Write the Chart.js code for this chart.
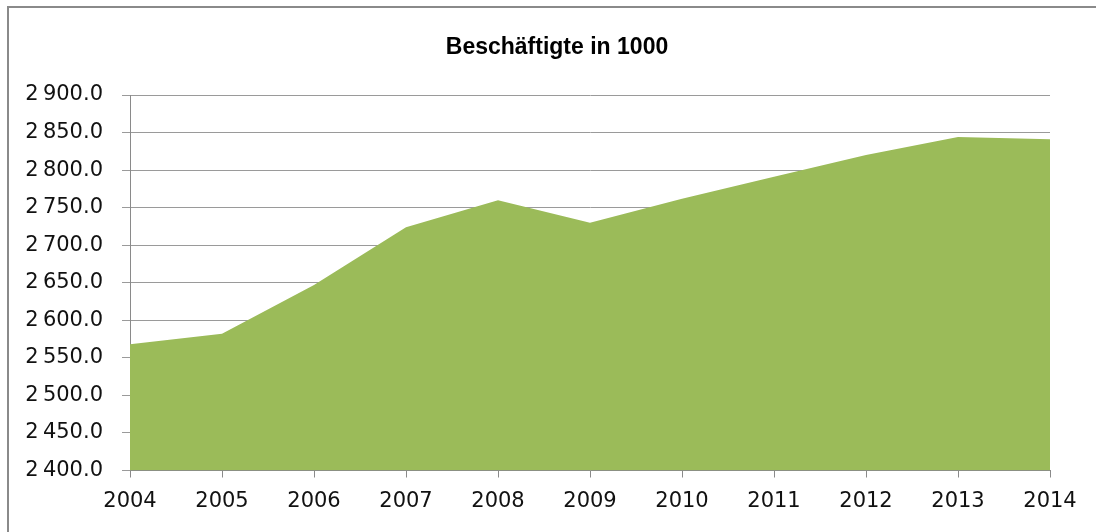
<!DOCTYPE html>
<html lang="de">
<head>
    <meta charset="UTF-8">
    <title>Beschäftigte in 1000</title>
    <script src="https://cdn.jsdelivr.net/npm/chart.js"></script>
    <style>
        html, body {
            margin: 0;
            padding: 0;
            background: #ffffff;
            overflow: hidden;
            width: 1096px;
            height: 532px;
        }
        .frame-top {
            position: absolute;
            left: 7px;
            top: 6px;
            width: 1200px;
            height: 2px;
            background: #8a8a8a;
        }
        .frame-left {
            position: absolute;
            left: 7px;
            top: 6px;
            width: 2px;
            height: 600px;
            background: #8a8a8a;
        }
        .chart-container {
            position: absolute;
            left: 0;
            top: 0;
            width: 1096px;
            height: 532px;
        }
    </style>
</head>
<body>
<div class="frame-top"></div>
<div class="frame-left"></div>
<div class="chart-container">
    <canvas id="chart" width="1096" height="532"></canvas>
</div>

<script>
    const years = ['2004', '2005', '2006', '2007', '2008', '2009', '2010', '2011', '2012', '2013', '2014'];
    const employed = [2568, 2582, 2647, 2724, 2760, 2730, 2762, 2791, 2820, 2844, 2841];

    const yMin = 2400;
    const yMax = 2900;
    const yStep = 50;

    function formatTick(value) {
        // thousands separated by a narrow space, one decimal
        const s = Number(value).toFixed(1);
        const [intPart, dec] = s.split('.');
        return intPart.replace(/\B(?=(\d{3})+(?!\d))/g, '\u202F') + '.' + dec;
    }

    new Chart(document.getElementById('chart').getContext('2d'), {
        type: 'line',
        data: {
            labels: years,
            datasets: [{
                label: 'Beschäftigte in 1000',
                data: employed,
                backgroundColor: '#9bbb59',
                borderWidth: 0,
                pointRadius: 0,
                fill: 'start',
                tension: 0
            }]
        },
        options: {
            responsive: false,
            animation: false,
            layout: {
                padding: { left: 18, right: 0, top: 0, bottom: 0 }
            },
            plugins: {
                legend: { display: false },
                tooltip: { enabled: false },
                title: {
                    display: true,
                    text: 'Beschäftigte in 1000',
                    color: '#000000',
                    font: { family: 'Liberation Sans', size: 23, weight: 'bold' },
                    padding: { top: 34, bottom: 33.4 }
                }
            },
            scales: {
                x: {
                    offset: false,
                    grid: {
                        drawOnChartArea: false,
                        drawTicks: true,
                        tickLength: 7,
                        color: '#8a8a8a'
                    },
                    border: { color: '#8a8a8a', width: 1 },
                    ticks: {
                        color: '#111111',
                        padding: 11,
                        maxRotation: 0,
                        autoSkip: false,
                        font: { family: 'DejaVu Sans', size: 21 }
                    },
                    afterFit: function (scale) { scale.height = 61.5; }
                },
                y: {
                    min: yMin,
                    max: yMax,
                    grid: {
                        color: '#9a9a9a',
                        lineWidth: 1,
                        tickLength: 8
                    },
                    border: { color: '#8a8a8a', width: 1 },
                    ticks: {
                        stepSize: yStep,
                        color: '#111111',
                        padding: 19,
                        font: { family: 'DejaVu Sans', size: 21 },
                        callback: formatTick
                    },
                    afterFit: function (scale) { scale.width = 112; }
                },
                // empty right-hand axis, only reserves the margin right of the plot
                spacer: {
                    position: 'right',
                    display: true,
                    grid: { display: false },
                    border: { display: false },
                    ticks: { display: false },
                    afterFit: function (scale) { scale.width = 46; }
                }
            }
        }
    });
</script>
</body>
</html>
